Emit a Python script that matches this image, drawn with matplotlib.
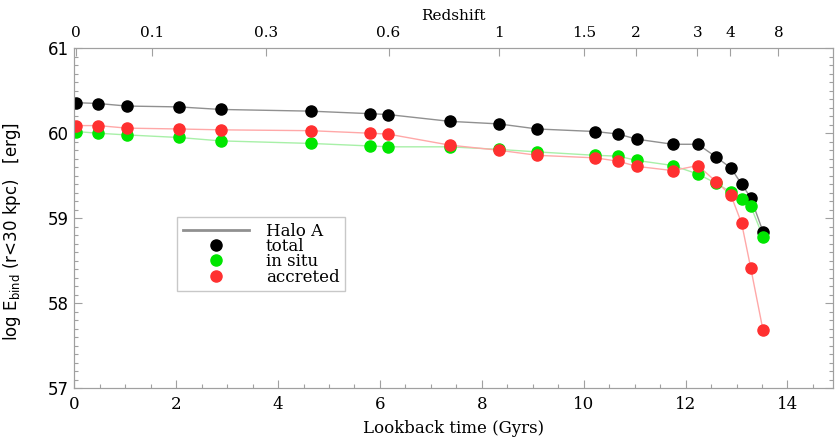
import matplotlib
matplotlib.use("Agg")
import matplotlib.pyplot as plt
from matplotlib.lines import Line2D
from matplotlib.ticker import MultipleLocator

# lookback time (Gyr) of each snapshot
lookback = [0.03, 0.47, 1.03, 2.05, 2.87, 4.64, 5.81, 6.16, 7.37, 8.33, 9.09,
            10.23, 10.68, 11.04, 11.75, 12.24, 12.60, 12.89, 13.10, 13.28, 13.52]

# log E_bind (r<30 kpc) [erg]
total = [60.36, 60.35, 60.32, 60.31, 60.28, 60.26, 60.23, 60.22, 60.14, 60.11, 60.05,
         60.02, 59.99, 59.93, 59.87, 59.87, 59.72, 59.59, 59.40, 59.24, 58.84]
in_situ = [60.02, 60.00, 59.98, 59.95, 59.91, 59.88, 59.85, 59.84, 59.84, 59.81, 59.78,
           59.74, 59.73, 59.68, 59.62, 59.52, 59.41, 59.31, 59.22, 59.14, 58.78]
accreted = [60.09, 60.09, 60.06, 60.05, 60.04, 60.03, 60.00, 59.99, 59.86, 59.80, 59.74,
            59.71, 59.67, 59.61, 59.56, 59.62, 59.43, 59.27, 58.94, 58.41, 57.68]

# redshift labels on the top axis and their lookback time
z_labels = ["0", "0.1", "0.3", "0.6", "1", "1.5", "2", "3", "4", "8"]
z_lookback = [0.03, 1.52, 3.76, 6.17, 8.33, 10.0, 11.03, 12.23, 12.88, 13.82]

serif = "DejaVu Serif"
axis_col = "#a0a0a0"

fig = plt.figure(figsize=(8.35, 4.43), dpi=100)
ax = fig.add_axes([0.089, 0.124, 0.909, 0.767])

# lines first, then markers (black, green, red)
series = [
    (total, "#909090", "black"),
    (in_situ, "#a8f0a8", "#00e600"),
    (accreted, "#ffa8a8", "#ff3030"),
]
for vals, lcol, mcol in series:
    ax.plot(lookback, vals, "-", color=lcol, lw=1.0, zorder=2)
for vals, lcol, mcol in series:
    ax.plot(lookback, vals, "o", color=mcol, ms=8, mec=mcol, zorder=3)

ax.set_xlim(0, 14.9)
ax.set_ylim(57, 61)
ax.xaxis.set_major_locator(MultipleLocator(2))
ax.xaxis.set_minor_locator(MultipleLocator(0.5))
ax.yaxis.set_major_locator(MultipleLocator(1))
ax.yaxis.set_minor_locator(MultipleLocator(0.1))
ax.tick_params(which="both", direction="in", right=True, top=False, colors=axis_col,
               labelcolor="black")
ax.tick_params(which="major", length=6, width=0.8)
ax.tick_params(which="minor", length=3, width=0.8)
ax.tick_params(axis="x", labelsize=12, pad=6)
ax.tick_params(axis="y", labelsize=12, pad=4)
for lab in ax.get_xticklabels():
    lab.set_family(serif)
for sp in ax.spines.values():
    sp.set_color(axis_col)

ax.set_xlabel("Lookback time (Gyrs)", fontsize=12, family=serif, labelpad=5)
ax.set_ylabel(r"log E$_{\rm bind}$ (r<30 kpc)   [erg]", fontsize=12)
ax.yaxis.set_label_coords(-0.068, 0.46)

# top axis in redshift
top = ax.twiny()
top.set_xlim(ax.get_xlim())
top.set_xticks(z_lookback)
top.set_xticklabels(z_labels, family=serif, fontsize=11)
top.tick_params(direction="in", length=6, width=0.8, colors=axis_col, labelcolor="black", pad=6)
top.set_xlabel("Redshift", family=serif, fontsize=11, labelpad=4)
for sp in top.spines.values():
    sp.set_color(axis_col)

handles = [
    Line2D([], [], color="#909090", lw=2),
    Line2D([], [], ls="none", marker="o", color="black", ms=8),
    Line2D([], [], ls="none", marker="o", color="#00e600", ms=8),
    Line2D([], [], ls="none", marker="o", color="#ff3030", ms=8),
]
leg = ax.legend(handles, ["Halo A", "total", "in situ", "accreted"],
                loc="upper left", bbox_to_anchor=(0.135, 0.504),
                prop={"family": serif, "size": 12}, fancybox=False,
                handlelength=4.0, handletextpad=1.0, labelspacing=-0.1,
                borderpad=0.35, borderaxespad=0, framealpha=1)
leg.get_frame().set_edgecolor("#c8c8c8")

fig.savefig("out.png", dpi=100)
